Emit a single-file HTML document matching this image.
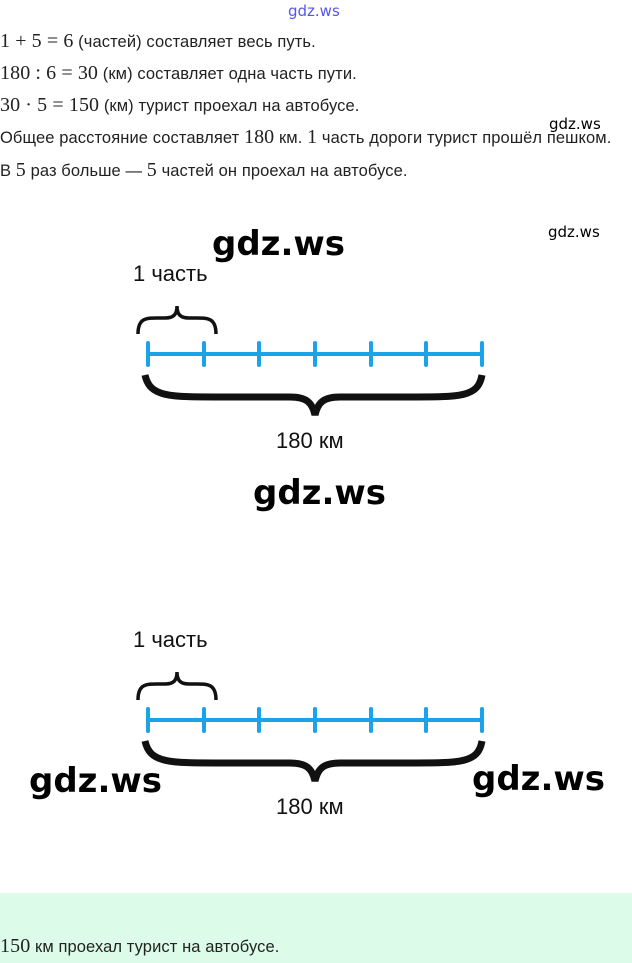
<!DOCTYPE html>
<html><head><meta charset="utf-8"><style>
body{margin:0;width:632px;height:963px;background:#fff;position:relative;overflow:hidden;font-family:"Liberation Sans","DejaVu Sans",sans-serif;color:#222}
.t{position:absolute;left:0;font-size:16.5px;white-space:nowrap;letter-spacing:0.1px}
.m{font-family:"Liberation Serif",serif;font-size:20px}
.g{position:absolute;font-family:"DejaVu Sans","Liberation Sans",sans-serif;color:#000;font-weight:normal}
.b{font-weight:bold;font-size:34px}
</style></head><body>
<div class="g" style="left:288px;top:2px;font-size:15px;color:#5555ee">gdz.ws</div>
<div class="t" style="top:30px"><span class="m">1 + 5 = 6</span> (частей) составляет весь путь.</div>
<div class="t" style="top:62px"><span class="m">180 : 6 = 30</span> (км) составляет одна часть пути.</div>
<div class="t" style="top:94px"><span class="m">30 · 5 = 150</span> (км) турист проехал на автобусе.</div>
<div class="t" style="top:126px">Общее расстояние составляет <span class="m">180</span> км. <span class="m">1</span> часть дороги турист прошёл пешком.</div>
<div class="t" style="top:159px">В <span class="m">5</span> раз больше — <span class="m">5</span> частей он проехал на автобусе.</div>
<div class="g" style="left:549px;top:115px;font-size:15px">gdz.ws</div>
<div class="g" style="left:548px;top:223px;font-size:15px">gdz.ws</div>
<div class="g b" style="left:212px;top:224px">gdz.ws</div>
<div class="g b" style="left:253px;top:473px">gdz.ws</div>
<div class="g b" style="left:29px;top:761px">gdz.ws</div>
<div class="g b" style="left:472px;top:759px">gdz.ws</div>
<svg width="632" height="963" style="position:absolute;left:0;top:0" xmlns="http://www.w3.org/2000/svg">
<g id="d">
<text x="133" y="281" font-family="Liberation Sans,sans-serif" font-size="22" fill="#111">1 часть</text>
<path d="M138 334 C138 316 148 318 165 318 C174 318 177 314 177 306 C177 314 180 318 189 318 C206 318 216 316 216 334" fill="none" stroke="#111" stroke-width="3.5"/>
<line x1="148" y1="354" x2="482" y2="354" stroke="#1aa3e8" stroke-width="4"/>
<g stroke="#1aa3e8" stroke-width="4" stroke-linecap="round">
<line x1="148" y1="343" x2="148" y2="365"/><line x1="204" y1="343" x2="204" y2="365"/><line x1="259" y1="343" x2="259" y2="365"/><line x1="315" y1="343" x2="315" y2="365"/><line x1="371" y1="343" x2="371" y2="365"/><line x1="426" y1="343" x2="426" y2="365"/><line x1="482" y1="343" x2="482" y2="365"/>
</g>
<path d="M145 375 C150 398 170 397 230 397 L290 397 C306 397 312 402 315 415 C318 402 324 397 340 397 L400 397 C460 397 478 398 482 375" fill="none" stroke="#111" stroke-width="7"/>
<text x="276" y="448" font-family="Liberation Sans,sans-serif" font-size="22" fill="#111">180 км</text>
</g>
<use href="#d" y="366"/>
</svg>
<div style="position:absolute;left:0;top:893px;width:632px;height:70px;background:#dcfce9"></div>
<div class="t" style="top:935px"><span class="m">150</span> км проехал турист на автобусе.</div>
</body></html>
